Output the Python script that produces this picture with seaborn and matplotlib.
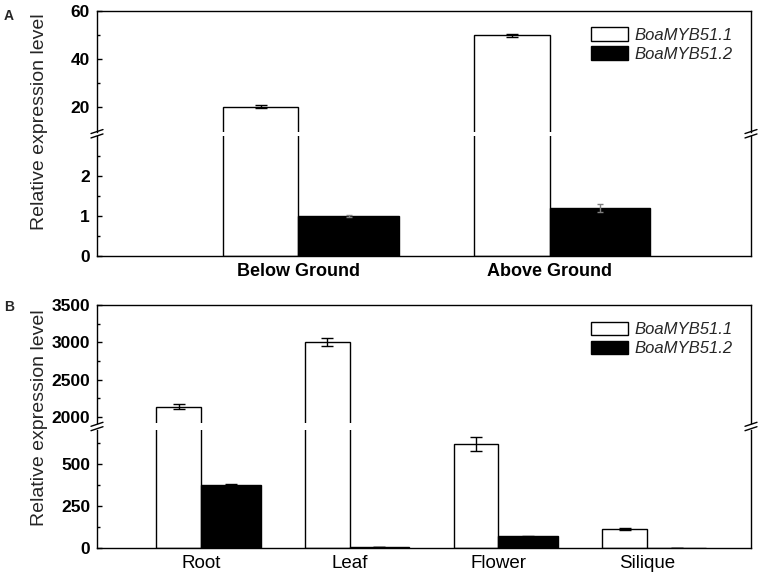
import numpy as np
import matplotlib
matplotlib.use("Agg")
import matplotlib.pyplot as plt
from matplotlib.patches import Patch
from matplotlib.lines import Line2D
import seaborn as sns

# ---------------- data ----------------
series_names = ["BoaMYB51.1", "BoaMYB51.2"]

groups_a = ["Below Ground", "Above Ground"]
a_mean_1 = [20.3, 50.0]
a_err_1 = [0.5, 0.6]
a_mean_2 = [1.0, 1.2]
a_err_2 = [0.03, 0.09]

tissues_b = ["Root", "Leaf", "Flower", "Silique"]
b_mean_1 = [2140, 3000, 618, 112]
b_err_1 = [35, 55, 42, 7]
b_mean_2 = [375, 5, 70, 1]
b_err_2 = [7, 1, 2, 0.5]

a_ticks_top = [20, 40, 60]
a_minor_top = [30, 50]
a_ticks_bot = [0, 1, 2]
a_minor_bot = [0.5, 1.5, 2.5]
b_ticks_top = [2000, 2500, 3000, 3500]
b_minor_top = [2250, 2750, 3250]
b_ticks_bot = [0, 250, 500]
b_minor_bot = [125, 375, 625]

# ---------------- style ----------------
sns.set_theme(style="ticks")
plt.rcParams['font.family'] = ['Liberation Sans', 'DejaVu Sans']

W, H = 762, 579
fig = plt.figure(figsize=(W / 100, H / 100), dpi=100)

WHITE_W = 0.3
BLACK_W = 0.4
LW = 1.0


def px_axes(l, t, r, b):
    return fig.add_axes([l / W, 1 - b / H, (r - l) / W, (b - t) / H])


def draw_series(ax, v1, e1, v2, e2, err2_color, cap2):
    c = np.arange(1, len(v1) + 1, dtype=float)
    sns.barplot(x=c - WHITE_W / 2, y=v1, orient="x", native_scale=True,
                width=WHITE_W, color="white", saturation=1, edgecolor="black",
                linewidth=LW, errorbar=None, ax=ax, zorder=2)
    sns.barplot(x=c + BLACK_W / 2, y=v2, orient="x", native_scale=True,
                width=BLACK_W, color="black", saturation=1, edgecolor="black",
                linewidth=LW, errorbar=None, ax=ax, zorder=2)
    ax.errorbar(c - WHITE_W / 2, v1, yerr=e1, fmt="none", ecolor="black",
                elinewidth=LW, capsize=4, capthick=LW, zorder=3, clip_on=True)
    ax.errorbar(c + BLACK_W / 2, v2, yerr=e2, fmt="none", ecolor=err2_color,
                elinewidth=LW, capsize=cap2, capthick=LW, zorder=3, clip_on=True)


def style_pair(ax_t, ax_b, xlim, ylim_t, ylim_b, ticks_t, minor_t, ticks_b,
               minor_b, cats, cat_bold, cat_size):
    for ax, yl, tk, mn in ((ax_t, ylim_t, ticks_t, minor_t),
                           (ax_b, ylim_b, ticks_b, minor_b)):
        ax.set_xlim(xlim)
        ax.set_ylim(yl)
        ax.set_xlabel("")
        ax.set_ylabel("")
        for s in ax.spines.values():
            s.set_linewidth(LW)
            s.set_color("black")
        ax.set_yticks(tk)
        ax.set_yticklabels([str(t) for t in tk], fontweight="bold", fontsize=12.5)
        ax.set_yticks(mn, minor=True)
        ax.tick_params(axis="y", which="both", direction="in", left=True,
                       right=False, color="black", width=LW, pad=5,
                       labelcolor="black")
        ax.tick_params(axis="y", which="major", length=3.5)
        ax.tick_params(axis="y", which="minor", length=2.5)
    ax_t.spines["bottom"].set_visible(False)
    ax_t.tick_params(axis="x", bottom=False, labelbottom=False)
    ax_b.spines["top"].set_visible(False)
    ax_b.set_xticks(np.arange(1, len(cats) + 1))
    ax_b.set_xticklabels(cats, fontweight="bold" if cat_bold else "normal",
                         fontsize=cat_size, color="black")
    ax_b.tick_params(axis="x", length=0, pad=5)


def break_marks(x_px, y_px):
    for dy in (-2.2, 2.2):
        y0 = y_px + dy
        fig.add_artist(Line2D([(x_px - 6) / W, (x_px + 6) / W],
                              [1 - (y0 + 2) / H, 1 - (y0 - 2) / H],
                              color="black", lw=1.0))


# ---------------- panel A ----------------
axA_t = px_axes(97, 11, 751, 131.5)
axA_b = px_axes(97, 136, 751, 256)
for ax in (axA_t, axA_b):
    draw_series(ax, a_mean_1, a_err_1, a_mean_2, a_err_2, "#7f7f7f", 2.5)
style_pair(axA_t, axA_b, (0.2, 2.8), (10, 60), (0, 3), a_ticks_top, a_minor_top,
           a_ticks_bot, a_minor_bot, groups_a, True, 13)
break_marks(97, 133.75)
break_marks(751, 133.75)

# ---------------- panel B ----------------
axB_t = px_axes(97, 305, 751, 423)
axB_b = px_axes(97, 430, 751, 548)
for ax in (axB_t, axB_b):
    draw_series(ax, b_mean_1, b_err_1, b_mean_2, b_err_2, "black", 4)
style_pair(axB_t, axB_b, (0.3, 4.7), (1920, 3500), (0, 700), b_ticks_top,
           b_minor_top, b_ticks_bot, b_minor_bot, tissues_b, False, 13.5)
break_marks(97, 426.5)
break_marks(751, 426.5)

# ---------------- legends ----------------
handles = [Patch(facecolor="white", edgecolor="black", linewidth=LW),
           Patch(facecolor="black", edgecolor="black", linewidth=LW)]
for y_top in (27.5, 322):
    fig.legend(handles, series_names, loc="upper left",
               bbox_to_anchor=(591 / W, 1 - y_top / H), frameon=False,
               prop={"style": "italic", "size": 12}, handlelength=2.2,
               handleheight=0.85, handletextpad=0.4, labelspacing=0.2,
               borderpad=0, borderaxespad=0)

# ---------------- labels ----------------
fig.text(40 / W, 1 - 122 / H, "Relative expression level", rotation=90,
         ha="center", va="center", fontsize=14)
fig.text(40 / W, 1 - 418 / H, "Relative expression level", rotation=90,
         ha="center", va="center", fontsize=14)
fig.text(9 / W, 1 - 16 / H, "A", ha="center", va="center", fontsize=10,
         fontweight="bold")
fig.text(9 / W, 1 - 307 / H, "B", ha="center", va="center", fontsize=10,
         fontweight="bold")

fig.savefig("out.png", dpi=100)
